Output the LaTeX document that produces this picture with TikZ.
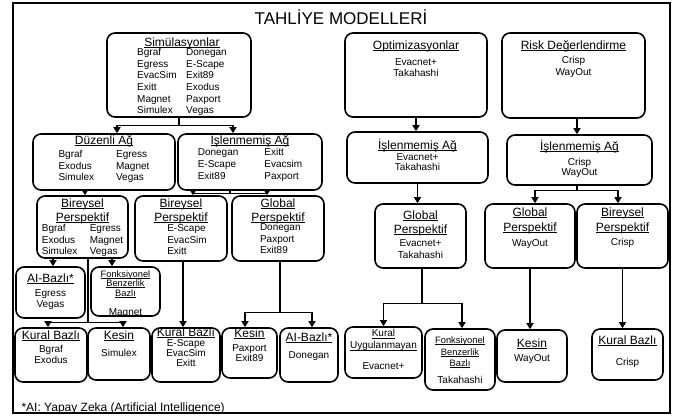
\documentclass[tikz,border=0pt]{standalone}
\usepackage{fontspec}
\setmainfont{Liberation Sans}
\usetikzlibrary{arrows.meta}

% underlined heading, kept out of the row height
\newcommand{\hd}[2][12]{\raisebox{0pt}[0pt][0pt]{\fontsize{#1}{#1}\selectfont\underline{\smash{#2}}}}
% box content: width, height, top pad, body
\newcommand{\inbox}[4]{\begin{minipage}[c][#2pt][t]{#1pt}\centering\vspace*{#3pt}#4\end{minipage}}

\begin{document}
\begin{tikzpicture}[x=1pt, y=-1pt, font=\fontsize{10}{11.7}\selectfont,
		mbox/.style={draw, line width=1.6pt, rounded corners=8pt, inner sep=0pt},
		arr/.style={-{Triangle[width=7pt,length=6pt]}, line width=1.3pt}]
		\useasboundingbox (0,0) rectangle (681,416);
		\draw[line width=2.4pt] (13,3) rectangle (670,413);
		\node[font=\fontsize{17}{20}\selectfont] (title) at (341,17) {TAHLİYE MODELLERİ};
		
		% simulasyonlar
		\node[mbox] (sim) at (179,75) {\inbox{144}{84}{5}{\hspace*{6pt}\begin{tabular}{@{}l@{\hspace{9.5pt}}l@{}}
			\multicolumn{2}{@{}c@{}}{\hd{Simülasyonlar}}\\[-2.4pt]
			Bgraf & Donegan\\ Egress & E-Scape\\ EvacSim & Exit89\\ Exitt & Exodus\\ Magnet & Paxport\\ Simulex & Vegas
		\end{tabular}}};
		\node[mbox] (duz) at (104,162) {\inbox{142}{56}{2.1}{\begin{tabular}{@{}l@{\hspace{22pt}}l@{}}
			\multicolumn{2}{@{}c@{}}{\hd{Düzenli Ağ}}\\[1.6pt]
			Bgraf & Egress\\ Exodus & Magnet\\ Simulex & Vegas
		\end{tabular}}};
		\node[mbox] (isl) at (250,162) {\inbox{144}{56}{2.1}{\begin{tabular}{@{}l@{\hspace{26pt}}l@{}}
			\multicolumn{2}{@{}c@{}}{\hd{İşlenmemiş Ağ}}\\
			Donegan & Exitt\\ E-Scape & Evacsim\\ Exit89 & Paxport
		\end{tabular}}};
		\node[mbox] (bir1) at (82.5,227) {\inbox{91}{62}{3.1}{\begin{tabular}{@{}l@{\hspace{12.4pt}}l@{}}
			\multicolumn{2}{@{}c@{}}{\hd{Bireysel}}\\[2.3pt]
			\multicolumn{2}{@{}c@{}}{\hd{Perspektif}}\\[-1.4pt]
			Bgraf & Egress\\ Exodus & Magnet\\ Simulex & Vegas
		\end{tabular}}};
		\node[mbox] (bir2) at (181,228.5) {\inbox{92}{65}{3.1}{\begin{tabular}{@{}l@{}}
			\multicolumn{1}{@{}c@{}}{\hd{Bireysel}}\\[2.3pt]
			\multicolumn{1}{@{}c@{}}{\hd{Perspektif}}\\[-1.4pt]
			\hspace*{13pt}E-Scape\\ \hspace*{13pt}EvacSim\\ \hspace*{13pt}Exitt
		\end{tabular}}};
		\node[mbox] (glob) at (278,228.5) {\inbox{92}{65}{3.1}{\begin{tabular}{@{}l@{}}
			\multicolumn{1}{@{}c@{}}{\hd{Global}}\\[2.3pt]
			\multicolumn{1}{@{}c@{}}{\hd{Perspektif}}\\[-2.4pt]
			\hspace*{8.7pt}Donegan\\ \hspace*{8.7pt}Paxport\\ \hspace*{8.7pt}Exit89
		\end{tabular}}};
		\node[mbox] (ai1) at (50.5,292.5) {\inbox{69}{51}{7.1}{\begin{tabular}{@{}c@{}}
			\hd{AI-Bazlı*}\\[2.6pt] Egress\\[-0.7pt] Vegas
		\end{tabular}}};
		\node[mbox] (fonk1) at (125.5,291.5) {\inbox{69}{49}{2.1}{\begin{tabular}{@{}c@{}}
			\hd[9.3]{Fonksiyonel}\\[-2.7pt] \hd[9.3]{Benzerlik}\\[-1.7pt] \hd[9.3]{Bazlı}\\[7.6pt] Magnet
		\end{tabular}}};
		
		% alt sira
		\node[mbox] (kb1) at (51,355) {\inbox{72}{54}{3.1}{\begin{tabular}{@{}c@{}}
			\hd{Kural Bazlı}\\[1.6pt] Bgraf\\[-0.7pt] Exodus
		\end{tabular}}};
		\node[mbox] (kes1) at (119,354) {\inbox{62}{52}{3.1}{\begin{tabular}{@{}c@{}}
			\hd{Kesin}\\[5.6pt] Simulex
		\end{tabular}}};
		\node[mbox] (kb2) at (186,355) {\inbox{68}{54}{0.1}{\begin{tabular}{@{}c@{}}
			\hd{Kural Bazlı}\\[-1.4pt] E-Scape\\[-1.7pt] EvacSim\\[-1.7pt] Exitt
		\end{tabular}}};
		\node[mbox] (kes2) at (249.5,353) {\inbox{55}{50}{1.1}{\begin{tabular}{@{}c@{}}
			\hd{Kesin}\\[2.6pt] Paxport\\[-1.7pt] Exit89
		\end{tabular}}};
		\node[mbox] (ai2) at (309,355) {\inbox{58}{54}{5.1}{\begin{tabular}{@{}c@{}}
			\hd{AI-Bazlı*}\\[5.6pt] Donegan
		\end{tabular}}};
		
		% optimizasyonlar ve risk
		\node[mbox] (opt) at (416,75) {\inbox{142}{84}{8.1}{\begin{tabular}{@{}c@{}}
			\hd{Optimizasyonlar}\\[4.6pt] Evacnet+\\[-0.7pt] Takahashi
		\end{tabular}}};
		\node[mbox] (risk) at (573.5,75.5) {\inbox{143}{85}{8.1}{\begin{tabular}{@{}c@{}}
			\hd{Risk Değerlendirme}\\[2.6pt] Crisp\\[0.3pt] WayOut
		\end{tabular}}};
		\node[mbox] (isl2) at (417.5,157.5) {\inbox{141}{51}{9.1}{\begin{tabular}{@{}c@{}}
			\hd{İşlenmemiş Ağ}\\[-0.4pt] Evacnet+\\[-1.7pt] Takahashi
		\end{tabular}}};
		\node[mbox] (isl3) at (579.5,160) {\inbox{145}{50}{7.1}{\begin{tabular}{@{}c@{}}
			\hd{İşlenmemiş Ağ}\\[3.6pt] Crisp\\[-1.7pt] WayOut
		\end{tabular}}};
		\node[mbox] (gp1) at (420.5,236) {\inbox{91}{64}{7.1}{\begin{tabular}{@{}c@{}}
			\hd{Global}\\[2.3pt] \hd{Perspektif}\\[1.6pt] Evacnet+\\[0.3pt] Takahashi
		\end{tabular}}};
		\node[mbox] (gp2) at (530,236) {\inbox{90}{64}{4.1}{\begin{tabular}{@{}c@{}}
			\hd{Global}\\[3.3pt] \hd{Perspektif}\\[3.6pt] WayOut
		\end{tabular}}};
		\node[mbox] (bp3) at (622.5,236) {\inbox{91}{64}{4.1}{\begin{tabular}{@{}c@{}}
			\hd{Bireysel}\\[3.3pt] \hd{Perspektif}\\[2.6pt] Crisp
		\end{tabular}}};
		\node[mbox] (ku) at (383.5,352.5) {\inbox{77}{51}{1.4}{\begin{tabular}{@{}c@{}}
			\hd[10]{Kural}\\[0.3pt] \hd[10]{Uygulanmayan}\\[9.3pt] Evacnet+
		\end{tabular}}};
		\node[mbox] (fonk2) at (460,359.5) {\inbox{70}{61}{6.1}{\begin{tabular}{@{}c@{}}
			\hd[9.3]{Fonksiyonel}\\[0.3pt] \hd[9.3]{Benzerlik}\\[-0.7pt] \hd[9.3]{Bazlı}\\[5.6pt] Takahashi
		\end{tabular}}};
		\node[mbox] (kes3) at (532,356) {\inbox{70}{52}{9.1}{\begin{tabular}{@{}c@{}}
			\hd{Kesin}\\[2.6pt] WayOut
		\end{tabular}}};
		\node[mbox] (kb3) at (627.5,354.5) {\inbox{71}{51}{7.1}{\begin{tabular}{@{}c@{}}
			\hd{Kural Bazlı}\\[9.6pt] Crisp
		\end{tabular}}};
		
		\node[anchor=west, font=\fontsize{12}{14}\selectfont] (note) at (18,408) {*AI: Yapay Zeka (Artificial Intelligence)};
		
		% baglantilar
		\draw[arr] (sim.south) -- ++(0,8) -| ([xshift=13pt]duz.north);
		\draw[arr] (sim.south) -- ++(0,8) -| ([xshift=-17pt]isl.north);
		\draw[arr] ([xshift=2.5pt]bir1.north |- duz.south) -- ([xshift=2.5pt]bir1.north);
		\draw[arr] ([xshift=-20pt]isl.south) -- ++(0,3) -| ([xshift=12pt]bir2.north);
		\draw[arr] ([xshift=-20pt]isl.south) -- ++(0,3) -| ([xshift=-11pt]glob.north);
		\draw[arr] ([xshift=2.5pt]ai1.north |- bir1.south) -- ([xshift=2.5pt]ai1.north);
		\draw[arr] ([xshift=-13.5pt]fonk1.north |- bir1.south) -- ([xshift=-13.5pt]fonk1.north);
		\draw[arr] ([xshift=5.5pt]bir1.south) -- ++(0,64) -| ([xshift=-3pt]kb1.north);
		\draw[arr] ([xshift=5.5pt]bir1.south) -- ++(0,64) -| ([xshift=4pt]kes1.north);
		\draw[arr] ([xshift=2pt]bir2.south) -- ([xshift=2pt]bir2.south |- kb2.north);
		\draw[arr] ([xshift=2pt]glob.south) -- ++(0,51) -| ([xshift=-4.5pt]kes2.north);
		\draw[arr] ([xshift=2pt]glob.south) -- ++(0,51) -| ([xshift=3pt]ai2.north);
		\draw[arr] (opt.south) -- (opt.south |- isl2.north);
		\draw[arr] ([xshift=3.5pt]risk.south) -- ([xshift=3.5pt]risk.south |- isl3.north);
		\draw[arr] (isl2.south) -- (isl2.south |- gp1.north);
		\draw[arr] ([xshift=-2.5pt]isl3.south) -- ++(0,5) -| ([xshift=5pt]gp2.north);
		\draw[arr] ([xshift=-2.5pt]isl3.south) -- ++(0,5) -| ([xshift=-4.5pt]bp3.north);
		\draw[arr] ([xshift=1.5pt]gp1.south) -- ++(0,35) -| (ku.north);
		\draw[arr] ([xshift=1.5pt]gp1.south) -- ++(0,35) -| ([xshift=2pt]fonk2.north);
		\draw[arr] (gp2.south) -- (gp2.south |- kes3.north);
		\draw[arr] (bp3.south) -- (bp3.south |- kb3.north);
	\end{tikzpicture}
\end{document}
